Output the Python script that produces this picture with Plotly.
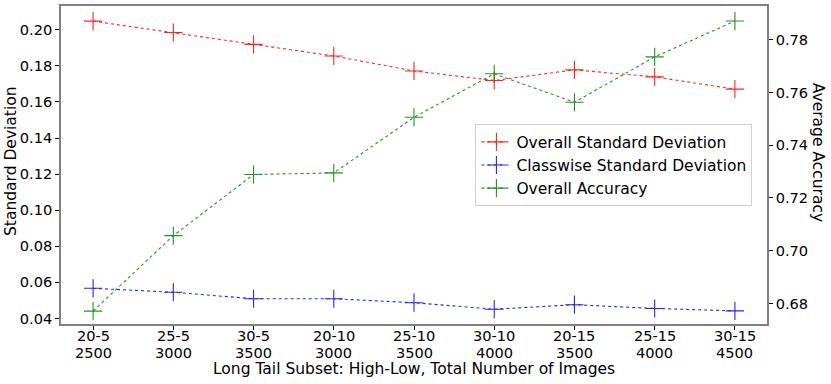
import plotly.graph_objects as go

high_low = ["20-5", "25-5", "30-5", "20-10", "25-10", "30-10", "20-15", "25-15", "30-15"]
total_images = [2500, 3000, 3500, 3000, 3500, 4000, 3500, 4000, 4500]

overall_std = [0.2048, 0.1985, 0.1919, 0.1855, 0.1772, 0.1719, 0.1778, 0.1739, 0.1671]
classwise_std = [0.0567, 0.0545, 0.0509, 0.0509, 0.0487, 0.0451, 0.0476, 0.0455, 0.0442]
overall_acc = [0.6771, 0.7057, 0.7289, 0.7295, 0.7506, 0.7671, 0.7563, 0.7735, 0.7871]

left_ticks = [0.04, 0.06, 0.08, 0.10, 0.12, 0.14, 0.16, 0.18, 0.20]
right_ticks = [0.68, 0.70, 0.72, 0.74, 0.76, 0.78]

FONT = "DejaVu Sans"
FS = 15.5      # titles / legend
TFS = 14.6     # tick labels
SPINE = "#808080"

fig = go.Figure()

def add(y, name, color, axis):
    fig.add_trace(go.Scatter(
        x=high_low, y=y, name=name, mode="lines+markers", yaxis=axis,
        line=dict(color=color, width=1.1, dash="dot"),
        marker=dict(symbol="cross-thin", size=13, line=dict(color=color, width=1.1), color=color),
        opacity=0.85,
    ))

add(overall_std, "Overall Standard Deviation", "#ff0000", "y")
add(classwise_std, "Classwise Standard Deviation", "#0000ff", "y")
add(overall_acc, "Overall Accuracy", "#008000", "y2")

annotations = []
for cat, tot in zip(high_low, total_images):
    annotations.append(dict(
        text=cat, xref="x", yref="paper", x=cat, y=0,
        xanchor="center", yanchor="middle", yshift=-11, showarrow=False,
        font=dict(family=FONT, size=TFS, color="black"),
    ))
    annotations.append(dict(
        text=str(tot), xref="x", yref="paper", x=cat, y=0,
        xanchor="center", yanchor="middle", yshift=-28.5, showarrow=False,
        font=dict(family=FONT, size=TFS, color="black"),
    ))
annotations += [
    dict(text="Long Tail Subset: High-Low, Total Number of Images",
         xref="paper", yref="paper", x=0.5, y=0, xanchor="center", yanchor="middle",
         yshift=-45, showarrow=False, font=dict(family=FONT, size=FS, color="black")),
    dict(text="Standard Deviation", textangle=-90,
         xref="paper", yref="paper", x=0, y=0.5125, xanchor="center", yanchor="middle",
         xshift=-50, showarrow=False, font=dict(family=FONT, size=FS, color="black")),
    dict(text="Average Accuracy", textangle=90,
         xref="paper", yref="paper", x=1.0, y=0.54, xanchor="center", yanchor="middle",
         xshift=50.5, showarrow=False, font=dict(family=FONT, size=FS, color="black")),
]

fig.update_layout(
    width=831, height=384,
    margin=dict(l=61, r=64, t=4, b=60),
    paper_bgcolor="white", plot_bgcolor="white",
    font=dict(family=FONT, size=FS, color="black"),
    showlegend=True,
    legend=dict(
        x=0.587, y=0.628, xanchor="left", yanchor="top",
        bgcolor="rgba(255,255,255,0.8)", bordercolor="#d0d0d0", borderwidth=1,
        font=dict(family=FONT, size=FS, color="black"),
        tracegroupgap=0, itemwidth=30,
    ),
    xaxis=dict(
        type="category", range=[-0.4, 8.4],
        showgrid=False, zeroline=False,
        showline=True, linecolor=SPINE, linewidth=1.5, mirror=True,
        ticks="outside", ticklen=4, tickcolor="black",
        showticklabels=False,
    ),
    yaxis=dict(
        range=[0.0369, 0.2132],
        tickvals=left_ticks, tickformat=".2f",
        showgrid=False, zeroline=False,
        showline=True, linecolor=SPINE, linewidth=1.5,
        ticks="outside", ticklen=4, tickcolor="black",
        tickfont=dict(family=FONT, size=TFS, color="black"),
    ),
    yaxis2=dict(
        overlaying="y", side="right",
        range=[0.6722, 0.7928],
        tickvals=right_ticks, tickformat=".2f",
        showgrid=False, zeroline=False,
        showline=True, linecolor=SPINE, linewidth=1.5,
        ticks="outside", ticklen=4, tickcolor="black",
        tickfont=dict(family=FONT, size=TFS, color="black"),
    ),
    annotations=annotations,
)

fig.write_html("out.html", config={"displayModeBar": False},
               post_script="document.body.style.margin='0';document.body.style.overflow='hidden';")
